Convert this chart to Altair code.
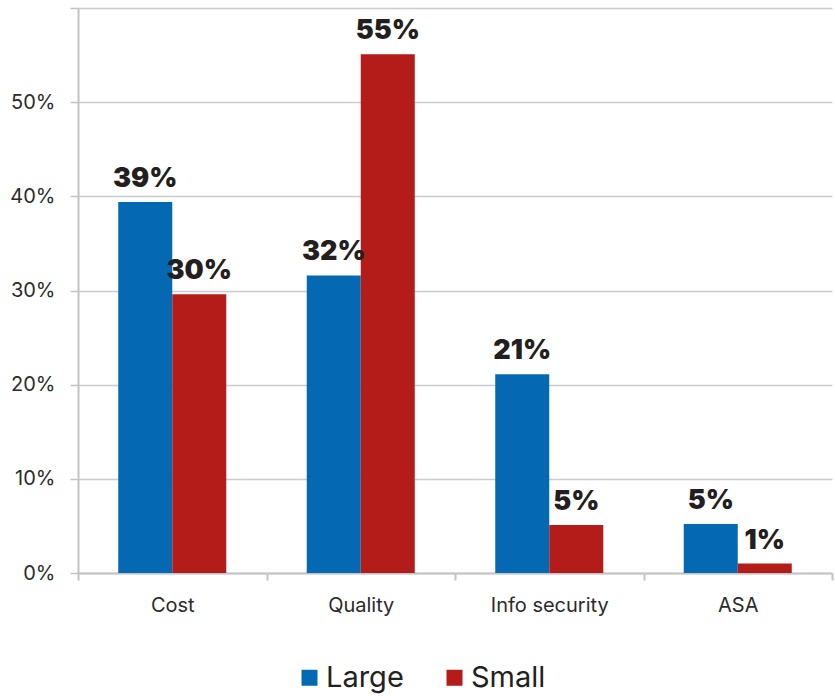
import altair as alt
import pandas as pd

# Share of respondents by priority and firm size
categories = ["Cost", "Quality", "Info security", "ASA"]
sizes = ["Large", "Small"]
large_values = [0.394, 0.316, 0.211, 0.052]
small_values = [0.296, 0.551, 0.051, 0.010]
y_ticks = [0.0, 0.1, 0.2, 0.3, 0.4, 0.5, 0.6]
colors = ["#0468B3", "#B31C18"]

rows = []
for cat, lg, sm in zip(categories, large_values, small_values):
    rows.append({"category": cat, "size": "Large", "value": lg})
    rows.append({"category": cat, "size": "Small", "value": sm})
df = pd.DataFrame(rows)

FONT = "Inter"
AXIS_GREY = "#c3c3c7"

x_enc = alt.X(
    "category:N",
    sort=categories,
    scale=alt.Scale(paddingInner=0, paddingOuter=0),
    axis=alt.Axis(
        title=None,
        labelAngle=0,
        tickBand="extent",
        tickSize=7,
        tickColor=AXIS_GREY,
        tickWidth=2,
        labelPadding=15,
        labelFont=FONT,
        labelFontSize=20,
        labelColor="#2b2b2b",
        domainColor=AXIS_GREY,
        domainWidth=2,
        grid=False,
    ),
)
xoff_enc = alt.XOffset(
    "size:N",
    sort=sizes,
    scale=alt.Scale(paddingInner=0, paddingOuter=0.745),
)
y_enc = alt.Y(
    "value:Q",
    scale=alt.Scale(domain=[0, 0.6], nice=False),
    axis=alt.Axis(
        title=None,
        values=y_ticks,
        labelExpr="datum.value >= 0.6 ? '' : format(datum.value, '.0%')",
        labelFont=FONT,
        labelFontSize=20,
        labelColor="#2b2b2b",
        labelPadding=15,
        tickSize=8,
        tickColor=AXIS_GREY,
        tickWidth=1.5,
        domainColor=AXIS_GREY,
        domainWidth=2,
        grid=True,
        gridColor="#cbcbcf",
        gridWidth=1.5,
    ),
)

base = alt.Chart(df).encode(x=x_enc, xOffset=xoff_enc, y=y_enc)

bars = base.mark_bar().encode(
    color=alt.Color(
        "size:N",
        sort=sizes,
        scale=alt.Scale(domain=sizes, range=colors),
        legend=alt.Legend(
            title=None,
            orient="none",
            direction="horizontal",
            legendX=217,
            legendY=655,
            symbolType="square",
            symbolSize=256,
            symbolStrokeWidth=0,
            labelFont=FONT,
            labelFontSize=29,
            labelColor="#222222",
            labelOffset=2,
            columnPadding=36,
        ),
    )
)

labels = base.mark_text(
    font=FONT,
    fontSize=27,
    fontWeight=900,
    baseline="alphabetic",
    dy=-15,
    color="#231f20",
).encode(text=alt.Text("value:Q", format=".0%"))

chart = (
    alt.layer(bars, labels)
    .properties(
        width=754,
        height=565,
        autosize=alt.AutoSizeParams(type="none"),
        padding={"left": 78, "top": 8, "right": 3, "bottom": 123},
    )
    .configure_view(stroke=None)
)

chart.save("out.html", embed_options={"renderer": "svg", "actions": False})
